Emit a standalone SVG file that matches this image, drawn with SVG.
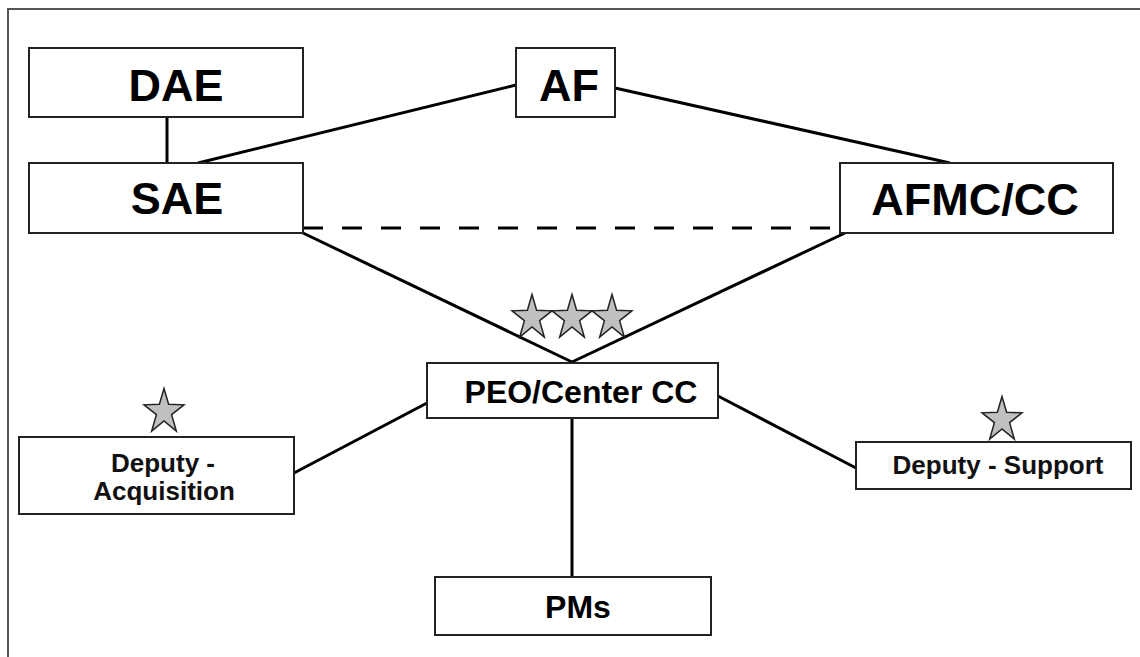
<svg xmlns="http://www.w3.org/2000/svg" xmlns:xlink="http://www.w3.org/1999/xlink" width="1140" height="657" viewBox="0 0 1140 657">
<style>
.box{fill:#fff;stroke:#222;stroke-width:2}
.big{font-family:"Liberation Sans",Arial,sans-serif;font-weight:bold;font-size:45px;fill:#000;text-anchor:middle}
.mid{font-family:"Liberation Sans",Arial,sans-serif;font-weight:bold;font-size:32px;fill:#000;text-anchor:middle}
.sm{font-family:"Liberation Sans",Arial,sans-serif;font-weight:bold;font-size:26px;fill:#111;text-anchor:middle}
.ln{stroke:#000;stroke-width:3;fill:none}
.star{fill:#c0c0c0;stroke:#222;stroke-width:1.5;stroke-linejoin:miter}
</style>
<defs>
<polygon id="star" class="star" points="0,-23.5 4.6,-7.8 19.97,-7.14 7.6,2.6 12.34,19.2 0,9.0 -12.34,19.2 -7.6,2.6 -19.97,-7.14 -4.6,-7.8"/>
</defs>
<rect x="0" y="0" width="1140" height="657" fill="#fff"/>
<path d="M8,660 L8,9 L1145,9" fill="none" stroke="#555" stroke-width="2"/>
<g id="connectors">
<line class="ln" x1="167" y1="117" x2="167" y2="163"/>
<line class="ln" x1="516" y1="85" x2="198" y2="163"/>
<line class="ln" x1="615" y1="88" x2="950" y2="163"/>
<line class="ln" x1="303" y1="228" x2="840" y2="228" stroke-dasharray="20 19"/>
<line class="ln" x1="303" y1="233" x2="572" y2="362"/>
<line class="ln" x1="845" y1="233" x2="572" y2="362"/>
<line class="ln" x1="572" y1="418" x2="572" y2="577"/>
<line class="ln" x1="427" y1="403" x2="294" y2="473" stroke-width="1.5"/>
<line class="ln" x1="718" y1="396" x2="856" y2="468"/>
</g>
<g id="DAE"><rect class="box" x="29" y="48" width="274" height="69"/><text class="big" x="176" y="101">DAE</text></g>
<g id="AF"><rect class="box" x="516" y="48" width="99" height="69"/><text class="big" x="569" y="101">AF</text></g>
<g id="SAE"><rect class="box" x="29" y="163" width="274" height="70"/><text class="big" x="177" y="214">SAE</text></g>
<g id="AFMC"><rect class="box" x="840" y="163" width="273" height="70"/><text class="big" x="975" y="215">AFMC/CC</text></g>
<g id="stars3"><use xlink:href="#star" x="532" y="318"/><use xlink:href="#star" x="572" y="318"/><use xlink:href="#star" x="612" y="318"/></g>
<g id="PEO"><rect class="box" x="427" y="363" width="291" height="55"/><text class="mid" x="581" y="403" font-size="33">PEO/Center CC</text></g>
<g id="DepAcq"><use xlink:href="#star" x="164" y="412"/><rect class="box" x="19" y="437" width="275" height="77"/><text class="sm" x="163" y="472">Deputy -</text><text class="sm" x="164" y="500">Acquisition</text></g>
<g id="DepSup"><use xlink:href="#star" x="1002" y="420"/><rect class="box" x="856" y="442" width="275" height="47"/><text class="sm" x="998" y="474">Deputy - Support</text></g>
<g id="PMs"><rect class="box" x="435" y="577" width="276" height="58"/><text class="mid" x="578" y="618" font-size="31">PMs</text></g>
</svg>
